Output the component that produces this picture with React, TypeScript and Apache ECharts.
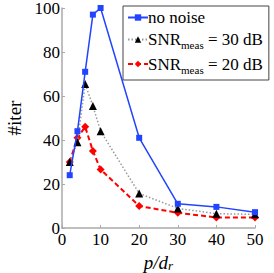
import React, { useEffect, useRef } from "react";
import * as echarts from "echarts";

const xValues = [2, 4, 6, 8, 10, 20, 30, 40, 50];
const noNoise = [24, 44, 71, 97, 100, 41, 11, 9.6, 7.2];
const snr30 = [30, 39, 65.5, 55.5, 44, 15.7, 8.9, 6.5, 6.2];
const snr20 = [30, 41, 46, 35, 26.6, 10, 6.9, 4.8, 4.8];
const xTicks = [0, 10, 20, 30, 40, 50];
const yTicks = [0, 20, 40, 60, 80, 100];

const serif = "Liberation Serif";

export default function App() {
  const ref = useRef<HTMLDivElement>(null);
  useEffect(() => {
    if (!ref.current) return;
    const chart = echarts.init(ref.current, undefined, { renderer: "svg" });
    const pair = (ys: number[]) => xValues.map((x, i) => [x, ys[i]]);
    chart.setOption({
      animation: false,
      backgroundColor: "#ffffff",
      grid: { left: 62, right: 19, top: 8, bottom: 45, outerBoundsMode: "none", containLabel: false },
      legend: {
        orient: "vertical",
        left: 123,
        top: 6,
        padding: [3, 6, 5, 4],
        itemGap: 5,
        itemWidth: 20,
        itemHeight: 8,
        backgroundColor: "#ffffff",
        borderColor: "#444444",
        borderWidth: 1,
        borderRadius: 0,
        textStyle: {
          fontFamily: serif,
          fontSize: 17,
          color: "#000",
          padding: [0, 0, 0, -5],
          rich: {
            a: { fontFamily: serif, fontSize: 17, color: "#000", lineHeight: 22, verticalAlign: "middle" },
            s: { fontFamily: serif, fontSize: 11, color: "#000", lineHeight: 11, verticalAlign: "bottom" },
          },
        },
        formatter: (name: string) => {
          if (name === "no noise") return "{a|no noise}";
          if (name === "snr30") return "{a|SNR}{s|meas}{a| = 30 dB}";
          return "{a|SNR}{s|meas}{a| = 20 dB}";
        },
        data: ["no noise", "snr30", "snr20"],
      },
      xAxis: {
        type: "value",
        min: 0,
        max: 50,
        interval: 10,
        name: "{i|p/d}{s|r}",
        nameLocation: "middle",
        nameGap: 20,
        nameTextStyle: {
          rich: {
            i: { fontFamily: serif, fontStyle: "italic", fontSize: 19, color: "#000", lineHeight: 20, verticalAlign: "middle" },
            s: { fontFamily: serif, fontStyle: "italic", fontSize: 13, color: "#000", lineHeight: 10, verticalAlign: "bottom" },
          },
        },
        axisLine: { show: true, lineStyle: { color: "#aaaaaa", width: 1.5 } },
        axisTick: { show: true, inside: true, length: 3, lineStyle: { color: "#aaaaaa" } },
        axisLabel: {
          fontFamily: serif,
          fontSize: 17,
          color: "#000",
          margin: 3,
          customValues: xTicks,
        },
        splitLine: { show: false },
      },
      yAxis: {
        type: "value",
        min: 0,
        max: 100,
        interval: 20,
        name: "#iter",
        nameLocation: "middle",
        nameGap: 33,
        nameRotate: 90,
        nameTextStyle: { fontFamily: serif, fontSize: 19, color: "#000" },
        axisLine: { show: true, lineStyle: { color: "#aaaaaa", width: 1.5 } },
        axisTick: { show: true, inside: true, length: 3, lineStyle: { color: "#aaaaaa" } },
        axisLabel: {
          fontFamily: serif,
          fontSize: 17,
          color: "#000",
          margin: 2,
          customValues: yTicks,
        },
        splitLine: { show: false },
      },
      series: [
        {
          name: "snr20",
          type: "line",
          data: pair(snr20),
          symbol: "diamond",
          symbolSize: 8,
          z: 2,
          itemStyle: { color: "#ff0000" },
          lineStyle: { color: "#ff0000", width: 2, type: [5, 3] },
        },
        {
          name: "snr30",
          type: "line",
          data: pair(snr30),
          symbol: "triangle",
          symbolSize: 8,
          z: 3,
          itemStyle: { color: "#000000" },
          lineStyle: { color: "#999999", width: 1.5, type: [1.5, 2] },
        },
        {
          name: "no noise",
          type: "line",
          data: pair(noNoise),
          symbol: "rect",
          symbolSize: 6,
          z: 4,
          itemStyle: { color: "#2244ff" },
          lineStyle: { color: "#2244ff", width: 1.5 },
        },
      ],
    });
    return () => chart.dispose();
  }, []);
  return <div ref={ref} style={{ width: 274, height: 273, position: "absolute", left: 0, top: 0 }} />;
}
